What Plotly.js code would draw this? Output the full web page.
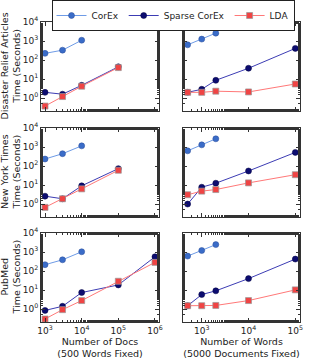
<!DOCTYPE html>
<html>
<head>
<meta charset="utf-8">
<script src="https://cdn.plot.ly/plotly-3.0.1.min.js"></script>
<style>
  html, body { margin: 0; padding: 0; background: #fff; }
  #plot { width: 334px; height: 359px; }
</style>
</head>
<body>
<div id="plot"></div>
<script>
// x values
var docsCorex = [1000, 3000, 10000];
var docsAll = [1000, 3000, 10000, 100000, 1000000];
var wordsCorex = [500, 1000, 2000];
var wordsAll = [500, 1000, 2000, 10000, 100000];

// Disaster Relief Articles
var drDocsCorex = [224, 330, 1100];
var drDocsSparse = [2.0, 1.6, 4.7, 44];
var drDocsLda = [0.38, 1.2, 4.2, 40];
var drWordsCorex = [630, 1260, 2600];
var drWordsSparse = [2.0, 2.9, 8.6, 37, 410];
var drWordsLda = [2.0, 2.0, 2.3, 2.1, 5.5];

// New York Times
var nytDocsCorex = [234, 445, 1150];
var nytDocsSparse = [2.6, 1.9, 9.1, 73];
var nytDocsLda = [0.67, 1.9, 6.3, 60];
var nytWordsCorex = [630, 1300, 2700];
var nytWordsSparse = [1.0, 7.7, 12.5, 55, 520];
var nytWordsLda = [3.1, 4.8, 5.8, 13, 35];

// PubMed
var pmDocsCorex = [215, 390, 1030];
var pmDocsSparse = [0.85, 1.4, 7.4, 18.6, 560];
var pmDocsLda = [0.30, 0.93, 2.8, 29, 285];
var pmWordsCorex = [610, 1200, 2450];
var pmWordsSparse = [1.5, 5.8, 9.1, 40, 425];
var pmWordsLda = [1.5, 1.5, 1.55, 2.8, 10.2];

var rowTitles = ['Disaster Relief Articles<br>Time (Seconds)',
                 'New York Times<br>Time (Seconds)',
                 'PubMed<br>Time (Seconds)'];

var font = {family: 'DejaVu Sans, sans-serif', size: 9, color: '#222'};

var styles = {
  corex: {name: 'CorEx', line: {color: '#6e9be6', width: 1},
          marker: {symbol: 'circle', size: 6, color: '#3a6cc8', line: {color: '#2a4c98', width: 0.5}}},
  sparse: {name: 'Sparse CorEx', line: {color: '#3c3cb4', width: 1},
           marker: {symbol: 'circle', size: 6, color: '#0c0c70', line: {color: '#000040', width: 0.5}}},
  lda: {name: 'LDA', line: {color: '#ff7878', width: 1},
        marker: {symbol: 'square', size: 6, color: '#f04444', line: {color: '#999', width: 0.7}}}
};

var panels = [
  [docsCorex, drDocsCorex, docsAll, drDocsSparse, drDocsLda],
  [wordsCorex, drWordsCorex, wordsAll, drWordsSparse, drWordsLda],
  [docsCorex, nytDocsCorex, docsAll, nytDocsSparse, nytDocsLda],
  [wordsCorex, nytWordsCorex, wordsAll, nytWordsSparse, nytWordsLda],
  [docsCorex, pmDocsCorex, docsAll, pmDocsSparse, pmDocsLda],
  [wordsCorex, pmWordsCorex, wordsAll, pmWordsSparse, pmWordsLda]
];

function mk(key, x, y, i) {
  var s = styles[key];
  var n = i + 1;
  return {
    type: 'scatter', mode: 'lines+markers', x: x, y: y,
    name: s.name, legendgroup: key, showlegend: i === 0,
    line: s.line, marker: s.marker,
    xaxis: 'x' + (n === 1 ? '' : n), yaxis: 'y' + (n === 1 ? '' : n)
  };
}

var data = [];
panels.forEach(function (p, i) {
  data.push(mk('corex', p[0], p[1], i));
  data.push(mk('sparse', p[2].slice(0, p[3].length), p[3], i));
  data.push(mk('lda', p[2].slice(0, p[4].length), p[4], i));
});

var xDom = [[41 / 334, 159 / 334], [183 / 334, 300 / 334]];
var yDom = [[1 - 111 / 359, 1 - 22 / 359], [1 - 217 / 359, 1 - 128 / 359], [1 - 322 / 359, 1 - 233 / 359]];

function sup(v) { return v.map(function (e) { return '10<sup>' + e + '</sup>'; }); }

var layout = {
  width: 334, height: 359,
  margin: {l: 0, r: 0, t: 0, b: 0},
  paper_bgcolor: '#fff', plot_bgcolor: '#fff',
  font: font,
  showlegend: true,
  legend: {orientation: 'h', x: 0.518, xanchor: 'center', y: 1, yanchor: 'top',
           bordercolor: '#222', borderwidth: 1, font: {family: font.family, size: 9, color: '#222'},
           itemwidth: 30, tracegroupgap: 0},
  annotations: []
};

for (var i = 0; i < 6; i++) {
  var col = i % 2, row = Math.floor(i / 2);
  var n = i + 1;
  var xa = {
    type: 'log', domain: xDom[col], anchor: 'y' + (n === 1 ? '' : n),
    range: col === 0 ? [2.89, 6.11] : [2.6, 5.1],
    showgrid: false, zeroline: false, showline: true, linecolor: '#333', linewidth: 1,
    mirror: 'allticks', ticks: 'inside', ticklen: 4, tickcolor: '#333',
    tickvals: col === 0 ? [1e3, 1e4, 1e5, 1e6] : [1e3, 1e4, 1e5],
    ticktext: col === 0 ? sup([3, 4, 5, 6]) : sup([3, 4, 5]),
    showticklabels: row === 2,
    tickfont: {family: font.family, size: 9, color: '#222'},
    minor: {ticks: 'inside', ticklen: 2, tickcolor: '#333', showgrid: false},
    automargin: false
  };
  if (row === 2) {
    xa.title = {text: col === 0 ? 'Number of Docs<br>(500 Words Fixed)' : 'Number of Words<br>(5000 Documents Fixed)',
                font: {family: font.family, size: 9.5, color: '#222'}, standoff: 6};
  }
  var ya = {
    type: 'log', domain: yDom[row], anchor: 'x' + (n === 1 ? '' : n),
    range: [-0.68, 4],
    showgrid: false, zeroline: false, showline: true, linecolor: '#333', linewidth: 1,
    mirror: 'allticks', ticks: 'inside', ticklen: 4, tickcolor: '#333',
    tickvals: [1, 10, 100, 1000, 10000], ticktext: sup([0, 1, 2, 3, 4]),
    showticklabels: col === 0,
    tickfont: {family: font.family, size: 9, color: '#222'},
    minor: {ticks: 'inside', ticklen: 2, tickcolor: '#333', showgrid: false},
    automargin: false
  };
  if (col === 0) {
    layout.annotations.push({
      text: rowTitles[row], xref: 'paper', yref: 'paper',
      x: 10 / 334, y: (yDom[row][0] + yDom[row][1]) / 2,
      xanchor: 'center', yanchor: 'middle', textangle: -90, showarrow: false,
      font: {family: font.family, size: 9.5, color: '#222'}
    });
  }
  layout['xaxis' + (n === 1 ? '' : n)] = xa;
  layout['yaxis' + (n === 1 ? '' : n)] = ya;
}

Plotly.newPlot('plot', data, layout, {displayModeBar: false, staticPlot: true});
</script>
</body>
</html>
